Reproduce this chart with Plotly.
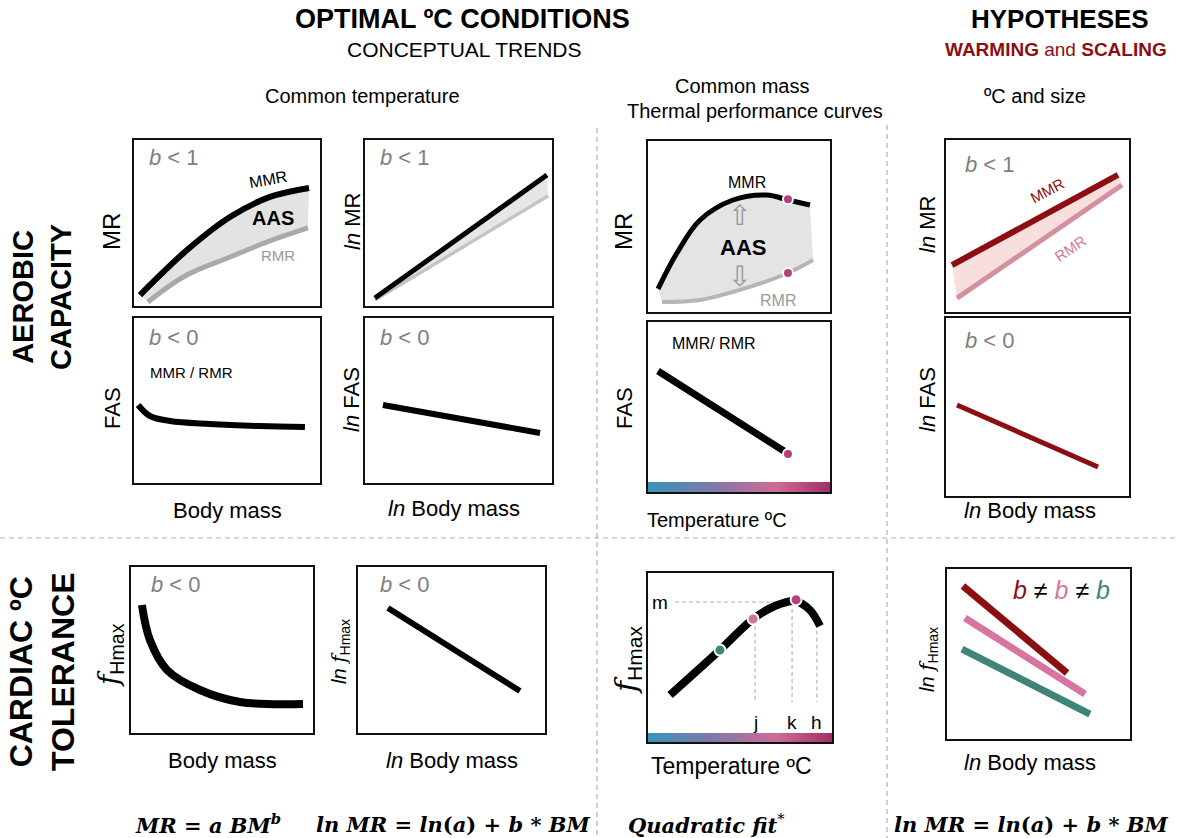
import plotly.graph_objects as go

W, H = 1177, 838

# ---------------- data (arbitrary 0-10 units inside each panel) ----------------
# A: MR vs Body mass (common temperature), b<1
a_mmr_x = [0.32, 2.85, 5.16, 7.31, 9.41]
a_mmr_y = [0.66, 3.37, 5.36, 6.57, 7.11]
a_rmr_x = [0.75, 2.74, 5.16, 7.31, 9.35]
a_rmr_y = [0.24, 1.81, 2.95, 3.92, 4.70]
# B: ln MR vs ln Body mass
b_mmr_x = [0.53, 9.73]
b_mmr_y = [0.48, 7.89]
b_rmr_x = [0.53, 9.79]
b_rmr_y = [0.36, 6.63]
# C: FAS vs Body mass
c_x = [0.22, 0.86, 1.94, 4.09, 6.77, 9.19]
c_y = [4.73, 4.06, 3.76, 3.58, 3.45, 3.39]
# D: ln FAS vs ln Body mass
d_x = [0.96, 9.36]
d_y = [4.73, 3.03]
# E: thermal performance curves MR
e_mmr_x = [0.55, 1.59, 2.86, 4.67, 6.54, 7.69, 8.90]
e_mmr_y = [1.35, 3.45, 5.38, 6.55, 6.84, 6.55, 6.26]
e_rmr_x = [0.77, 2.86, 5.05, 7.69, 9.07]
e_rmr_y = [0.58, 0.70, 1.29, 2.28, 3.04]
e_dot_x = [7.69, 7.69]
e_dot_y = [6.60, 2.28]
# F: FAS vs temperature
f_x = [0.55, 7.47]
f_y = [7.12, 2.41]
f_dot_x = [7.69]
f_dot_y = [2.24]
# G: fHmax vs Body mass
g_x = [0.60, 1.04, 1.98, 3.79, 5.99, 9.45]
g_y = [7.71, 5.60, 3.80, 2.59, 1.87, 1.75]
# H: ln fHmax vs ln Body mass
h_x = [1.60, 8.66]
h_y = [7.53, 2.53]
# I: fHmax vs temperature (quadratic)
i_x = [1.20, 3.91, 5.71, 6.90, 7.99, 8.80, 9.35]
i_y = [2.78, 5.44, 7.28, 8.05, 8.34, 7.81, 6.86]
i_dot_x = [3.91, 5.71, 8.05]
i_dot_y = [5.44, 7.28, 8.42]
i_m_x, i_m_y = [1.47, 7.83], [8.28, 8.28]
i_j_x, i_j_y = [5.82, 5.82], [7.28, 2.37]
i_k_x, i_k_y = [7.83, 7.83], [8.28, 2.37]
i_h_x, i_h_y = [9.18, 9.18], [7.00, 2.37]
# J: hypotheses ln MR
j_mmr_x = [0.33, 9.40]
j_mmr_y = [2.73, 7.97]
j_rmr_x = [0.60, 9.62]
j_rmr_y = [0.81, 7.38]
# K: hypotheses ln FAS
k_x = [0.60, 8.31]
k_y = [5.11, 1.63]
# L: hypotheses ln fHmax
l_red_x, l_red_y = [0.87, 6.56], [9.00, 3.88]
l_pink_x, l_pink_y = [0.98, 7.54], [7.12, 2.65]
l_teal_x, l_teal_y = [0.82, 7.81], [5.29, 1.47]
# temperature gradient bar
bar_x = [0, 10, 10, 0, 0]
bar_y_f = [0, 0, 0.59, 0.59, 0]
bar_y_i = [0, 0, 0.53, 0.53, 0]

# ---------------- styling ----------------
FONT = "Liberation Sans, Arial, sans-serif"
SERIF = "DejaVu Serif, serif"
DARKRED = "#8b0f12"
PINK = "#d8749f"
TEAL = "#3f8577"
MAG = "#b8407a"
GRAD = [[0, "#3a93b9"], [0.35, "#7d7aa8"], [0.7, "#cf6b97"], [1, "#a12f66"]]

panels = {
    "A": (134, 140, 320, 306),
    "B": (365, 140, 552, 306),
    "C": (134, 318, 320, 483),
    "D": (365, 318, 552, 483),
    "E": (648, 141, 830, 312),
    "F": (648, 322, 830, 492),
    "G": (131, 567, 313, 733),
    "H": (358, 567, 545, 733),
    "I": (648, 573, 832, 742),
    "J": (946, 140, 1129, 312),
    "K": (946, 318, 1129, 496),
    "L": (947, 569, 1130, 739),
}

fig = go.Figure()
axstyle = dict(range=[0, 10], showline=True, mirror=True, linecolor="#111111", linewidth=2,
               showticklabels=False, ticks="", showgrid=False, zeroline=False, fixedrange=True)
ref = {}
lay = {}
for i, (key, (x0, y0, x1, y1)) in enumerate(panels.items(), start=1):
    s = "" if i == 1 else str(i)
    lay["xaxis" + s] = dict(domain=[x0 / W, x1 / W], anchor="y" + s, **axstyle)
    lay["yaxis" + s] = dict(domain=[1 - y1 / H, 1 - y0 / H], anchor="x" + s, **axstyle)
    ref[key] = ("x" + s, "y" + s)


def line(key, x, y, color, width, shape="spline", dash=None, fill=None, fillcolor=None):
    xr, yr = ref[key]
    fig.add_trace(go.Scatter(x=x, y=y, mode="lines", xaxis=xr, yaxis=yr,
                             line=dict(color=color, width=width, shape=shape, dash=dash),
                             fill=fill, fillcolor=fillcolor, hoverinfo="skip"))


def dots(key, x, y, colors, size=11):
    xr, yr = ref[key]
    fig.add_trace(go.Scatter(x=x, y=y, mode="markers", xaxis=xr, yaxis=yr,
                             marker=dict(size=size, color=colors, line=dict(color="white", width=2)),
                             hoverinfo="skip"))


def gbar(key, by):
    xr, yr = ref[key]
    fig.add_trace(go.Scatter(x=bar_x, y=by, mode="lines", xaxis=xr, yaxis=yr, fill="toself",
                             fillgradient=dict(type="horizontal", colorscale=GRAD),
                             line=dict(width=0), hoverinfo="skip"))


# A
line("A", a_rmr_x, a_rmr_y, "rgba(0,0,0,0)", 0)
line("A", a_mmr_x, a_mmr_y, "rgba(0,0,0,0)", 0, fill="tonexty", fillcolor="#e3e3e3")
line("A", a_rmr_x, a_rmr_y, "#a9a9a9", 5)
line("A", a_mmr_x, a_mmr_y, "#000000", 6)
# B
line("B", b_rmr_x, b_rmr_y, "#c4c4c4", 3, shape="linear")
line("B", b_mmr_x, b_mmr_y, "rgba(0,0,0,0)", 0, shape="linear", fill="tonexty", fillcolor="#e6e6e6")
line("B", b_rmr_x, b_rmr_y, "#c4c4c4", 3, shape="linear")
line("B", b_mmr_x, b_mmr_y, "#000000", 5, shape="linear")
# C, D
line("C", c_x, c_y, "#000000", 6)
line("D", d_x, d_y, "#000000", 6, shape="linear")
# E
line("E", e_rmr_x, e_rmr_y, "rgba(0,0,0,0)", 0)
line("E", e_mmr_x, e_mmr_y, "rgba(0,0,0,0)", 0, fill="tonexty", fillcolor="#e4e4e4")
line("E", e_rmr_x, e_rmr_y, "#b5b5b5", 4)
line("E", e_mmr_x, e_mmr_y, "#000000", 5)
dots("E", e_dot_x, e_dot_y, [MAG, MAG], 10)
# F
gbar("F", bar_y_f)
line("F", f_x, f_y, "#000000", 7, shape="linear")
dots("F", f_dot_x, f_dot_y, [MAG], 10)
# G, H
line("G", g_x, g_y, "#000000", 8)
line("H", h_x, h_y, "#000000", 6, shape="linear")
# I
gbar("I", bar_y_i)
for gx, gy in [(i_m_x, i_m_y), (i_j_x, i_j_y), (i_k_x, i_k_y), (i_h_x, i_h_y)]:
    line("I", gx, gy, "#bdbdbd", 1.3, shape="linear", dash="4px,3px")
line("I", i_x, i_y, "#000000", 8)
dots("I", i_dot_x, i_dot_y, [TEAL, "#d3709c", MAG], 11)
# J
line("J", j_rmr_x, j_rmr_y, "rgba(0,0,0,0)", 0, shape="linear")
line("J", j_mmr_x, j_mmr_y, "rgba(0,0,0,0)", 0, shape="linear", fill="tonexty", fillcolor="#f9dede")
line("J", j_rmr_x, j_rmr_y, "#d3919f", 5, shape="linear")
line("J", j_mmr_x, j_mmr_y, DARKRED, 6, shape="linear")
# K
line("K", k_x, k_y, DARKRED, 5, shape="linear")
# L
line("L", l_red_x, l_red_y, DARKRED, 7, shape="linear")
line("L", l_pink_x, l_pink_y, PINK, 7, shape="linear")
line("L", l_teal_x, l_teal_y, TEAL, 7, shape="linear")

# ---------------- annotations ----------------
anns = []


def ptxt(text, px, py, size, color="#000000", angle=0, family=FONT, xanchor="center"):
    anns.append(dict(text=text, x=px / W, y=1 - py / H, xref="paper", yref="paper",
                     showarrow=False, textangle=angle, xanchor=xanchor, yanchor="middle",
                     font=dict(family=family, size=size, color=color)))


def itxt(key, text, x, y, size, color="#000000", angle=0, xanchor="center", family=FONT):
    xr, yr = ref[key]
    anns.append(dict(text=text, x=x, y=y, xref=xr, yref=yr, showarrow=False, textangle=angle,
                     xanchor=xanchor, yanchor="middle", font=dict(family=family, size=size, color=color)))


# headers
ptxt("<b>OPTIMAL ºC CONDITIONS</b>", 462, 19, 27)
ptxt("CONCEPTUAL TRENDS", 464, 49, 21)
ptxt("<b>HYPOTHESES</b>", 1060, 19, 26)
ptxt("<b>WARMING</b> and <b>SCALING</b>", 1056, 49, 19, color=DARKRED)
ptxt("Common temperature", 362, 96, 20)
ptxt("Common mass", 742, 86, 20)
ptxt("Thermal performance curves", 755, 111, 20)
ptxt("ºC and size", 1035, 96, 20)
# row labels
ptxt("<b>AEROBIC<br>CAPACITY</b>", 42, 297, 29, angle=-90)
ptxt("<b>CARDIAC ºC<br>TOLERANCE</b>", 42, 672, 32, angle=-90)
# y labels
ptxt("MR", 112, 232, 24, angle=-90)
ptxt("<i>ln</i> MR", 352, 222, 22, angle=-90)
ptxt("MR", 624, 232, 24, angle=-90)
ptxt("<i>ln</i> MR", 928, 225, 22, angle=-90)
ptxt("FAS", 112, 408, 22, angle=-90)
ptxt("<i>ln</i> FAS", 352, 400, 22, angle=-90)
ptxt("FAS", 624, 408, 22, angle=-90)
ptxt("<i>ln</i> FAS", 928, 400, 22, angle=-90)
F_ITAL = '<span style="font-family:DejaVu Serif"><i>f</i></span>'
ptxt(F_ITAL + "<sub>Hmax</sub>", 110, 655, 28, angle=-90)
ptxt("<i>ln</i> " + F_ITAL + "<sub>Hmax</sub>", 340, 652, 20, angle=-90)
ptxt(F_ITAL + "<sub>Hmax</sub>", 627, 660, 30, angle=-90)
ptxt("<i>ln</i> " + F_ITAL + "<sub>Hmax</sub>", 928, 660, 20, angle=-90)
# x labels
ptxt("Body mass", 227, 510, 22)
ptxt("<i>ln</i> Body mass", 454, 508, 22)
ptxt("Temperature ºC", 717, 520, 20)
ptxt("<i>ln</i> Body mass", 1030, 510, 22)
ptxt("Body mass", 222, 760, 22)
ptxt("<i>ln</i> Body mass", 452, 760, 22)
ptxt("Temperature ºC", 731, 766, 23)
ptxt("<i>ln</i> Body mass", 1030, 762, 22)
# equations
ptxt("<b><i>MR</i> = <i>a BM<sup>b</sup></i></b>", 208, 824, 21, family=SERIF)
ptxt("<b><i>ln MR</i> = <i>ln</i>(<i>a</i>) + <i>b</i> * <i>BM</i></b>", 453, 824, 21, family=SERIF)
ptxt("<b><i>Quadratic fit</i></b><sup>*</sup>", 706, 824, 21, family=SERIF)
ptxt("<b><i>ln MR</i> = <i>ln</i>(<i>a</i>) + <i>b</i> * <i>BM</i></b>", 1031, 824, 21, family=SERIF)

GRAY = "#7f7f7f"
# in-panel texts
itxt("A", "<i>b</i> < 1", 0.70, 8.92, 22, GRAY, xanchor="left")
itxt("A", "MMR", 7.2, 7.65, 16, angle=-10)
itxt("A", "<b>AAS</b>", 7.47, 5.30, 20)
itxt("A", "RMR", 7.74, 3.07, 15, "#9a9a9a")
itxt("B", "<i>b</i> < 1", 0.70, 8.92, 22, GRAY, xanchor="left")
itxt("C", "<i>b</i> < 0", 0.70, 8.79, 22, GRAY, xanchor="left")
itxt("C", "MMR / RMR", 0.75, 6.67, 15, xanchor="left")
itxt("D", "<i>b</i> < 0", 0.70, 8.79, 22, GRAY, xanchor="left")
itxt("E", "MMR", 5.44, 7.55, 16)
itxt("E", "⇧", 5.05, 5.62, 28, "#9a9a9a", family="DejaVu Sans")
itxt("E", "<b>AAS</b>", 5.22, 3.80, 22)
itxt("E", "⇩", 5.05, 2.05, 28, "#9a9a9a", family="DejaVu Sans")
itxt("E", "RMR", 7.14, 0.70, 16, "#9a9a9a")
itxt("F", "MMR/ RMR", 1.21, 8.76, 16, xanchor="left")
itxt("G", "<i>b</i> < 0", 0.99, 8.92, 22, GRAY, xanchor="left")
itxt("H", "<i>b</i> < 0", 1.07, 8.92, 22, GRAY, xanchor="left")
itxt("I", "m", 0.65, 8.28, 19)
itxt("I", "j", 5.82, 1.18, 19)
itxt("I", "k", 7.83, 1.18, 19)
itxt("I", "h", 9.18, 1.18, 19)
itxt("J", "<i>b</i> < 1", 0.93, 8.55, 22, GRAY, xanchor="left")
itxt("J", "MMR", 5.52, 7.09, 15, DARKRED, angle=-28)
itxt("J", "RMR", 6.78, 3.72, 15, "#d07d93", angle=-34)
itxt("K", "<i>b</i> < 0", 0.93, 8.76, 22, GRAY, xanchor="left")
itxt("L", f'<i><span style="color:{DARKRED}">b</span></i> ≠ <i><span style="color:{PINK}">b</span></i>'
          f' ≠ <i><span style="color:{TEAL}">b</span></i>', 6.28, 8.76, 25)

# separators
shapes = [
    dict(type="line", xref="paper", yref="paper", x0=597 / W, x1=597 / W, y0=1 - 128 / H, y1=0,
         line=dict(color="#b0b0b0", width=1.2, dash="5px,4px")),
    dict(type="line", xref="paper", yref="paper", x0=887 / W, x1=887 / W, y0=1 - 125 / H, y1=0,
         line=dict(color="#b0b0b0", width=1.2, dash="5px,4px")),
    dict(type="line", xref="paper", yref="paper", x0=0, x1=1, y0=1 - 538 / H, y1=1 - 538 / H,
         line=dict(color="#b0b0b0", width=1.2, dash="5px,4px")),
]

fig.update_layout(width=W, height=H, margin=dict(l=0, r=0, t=0, b=0), showlegend=False,
                  plot_bgcolor="white", paper_bgcolor="white", annotations=anns, shapes=shapes,
                  font=dict(family=FONT), **lay)
fig.write_html("out.html")
